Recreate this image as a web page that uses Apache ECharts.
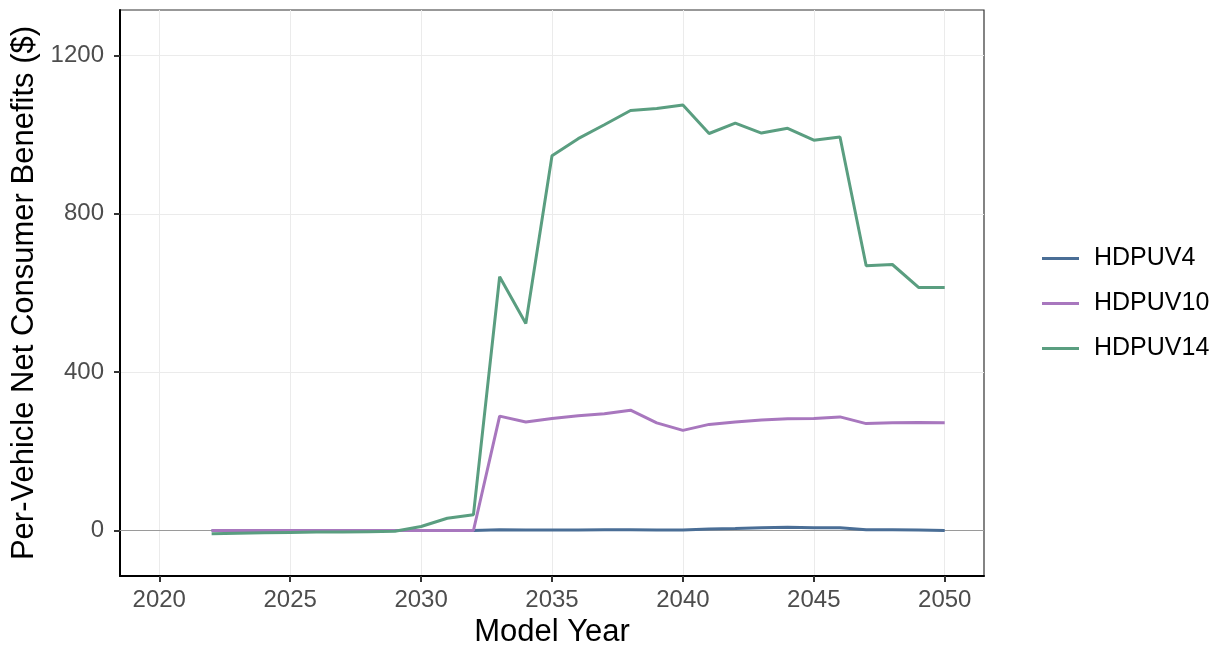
<!DOCTYPE html>
<html>
<head>
<meta charset="utf-8">
<script src="https://cdn.jsdelivr.net/npm/echarts@6/dist/echarts.min.js"></script>
<style>
  html, body { margin: 0; padding: 0; background: #fff; }
  #main { width: 1216px; height: 650px; }
</style>
</head>
<body>
<div id="main"></div>
<script>
// 数据区域
var years = [2022, 2023, 2024, 2025, 2026, 2027, 2028, 2029, 2030, 2031, 2032, 2033, 2034, 2035, 2036,
             2037, 2038, 2039, 2040, 2041, 2042, 2043, 2044, 2045, 2046, 2047, 2048, 2049, 2050];
var hdpuv4  = [0, 0, 0, 0, 0, 0, 0, 0, 0, 0, 0, 2, 1, 1, 1, 2, 2, 1, 1, 4, 5, 7, 8, 7, 7, 2, 2, 1, 0];
var hdpuv10 = [0, 0, 0, 0, 0, 0, 0, 0, 0, 0, 0, 289, 274, 283, 290, 295, 304, 272, 253, 268, 274, 279, 282, 283, 287, 270, 272, 273, 272];
var hdpuv14 = [-8, -7, -6, -5, -4, -4, -3, -2, 10, 31, 40, 641, 523, 947, 990, 1025, 1061, 1066, 1075, 1003, 1029, 1004, 1016, 986, 994, 669, 672, 614, 614];
var xTicks = [2020, 2025, 2030, 2035, 2040, 2045, 2050];
var yTicks = [0, 400, 800, 1200];
var seriesNames = ['HDPUV4', 'HDPUV10', 'HDPUV14'];
var colorList = ['#4A6E96', '#A877BE', '#5A9E80'];

function toPairs(vals) {
    var out = [];
    for (var i = 0; i < years.length; i++) {
        out.push([years[i], vals[i]]);
    }
    return out;
}

var chart = echarts.init(document.getElementById('main'));
var allVals = [hdpuv4, hdpuv10, hdpuv14];

var series = [];
for (var k = 0; k < seriesNames.length; k++) {
    var s = {
        name: seriesNames[k],
        type: 'line',
        data: toPairs(allVals[k]),
        showSymbol: false,
        symbol: 'none',
        z: 3 + k,
        lineStyle: { color: colorList[k], width: 3 },
        itemStyle: { color: colorList[k] }
    };
    if (k === 0) {
        // 0 参考线
        s.markLine = {
            silent: true,
            symbol: 'none',
            z: 1,
            label: { show: false },
            lineStyle: { color: '#9a9a9a', width: 1, type: 'solid' },
            data: [{ yAxis: 0 }]
        };
    }
    series.push(s);
}

var option = {
    animation: false,
    backgroundColor: '#fff',
    grid: {
        left: 120, right: 232, top: 10, bottom: 74,
        outerBoundsMode: 'none',
        containLabel: false,
        show: true, borderColor: '#333', borderWidth: 1.2, backgroundColor: 'transparent'
    },
    legend: {
        orient: 'vertical',
        left: 1037, top: 241,
        itemWidth: 37, itemHeight: 26, itemGap: 20,
        data: seriesNames.map(function (n, i) {
            return { name: n, icon: 'path://M0,11.5 L37,11.5 L37,14.5 L0,14.5 Z', itemStyle: { color: colorList[i] } };
        }),
        textStyle: { fontFamily: 'Liberation Sans, Arial', fontSize: 25, color: '#000', padding: [0, 0, 0, 10] }
    },
    xAxis: {
        type: 'value',
        min: 2018.5, max: 2051.5,
        name: 'Model Year',
        nameLocation: 'middle',
        nameGap: 39,
        nameTextStyle: { fontFamily: 'Liberation Sans, Arial', fontSize: 31, color: '#000' },
        axisLine: { show: true, onZero: false, lineStyle: { color: '#000', width: 2 } },
        axisTick: { show: true, length: 6, customValues: xTicks, lineStyle: { color: '#333', width: 2 } },
        axisLabel: { customValues: xTicks, margin: 12, fontFamily: 'Liberation Sans, Arial', fontSize: 24, color: '#4D4D4D',
            formatter: function (v) { return String(v); } },
        splitLine: { show: true, lineStyle: { color: '#EBEBEB', width: 1 } }
    },
    yAxis: {
        type: 'value',
        min: -115, max: 1315,
        name: 'Per-Vehicle Net Consumer Benefits ($)',
        nameLocation: 'middle',
        nameGap: 80,
        nameTextStyle: { fontFamily: 'Liberation Sans, Arial', fontSize: 31, color: '#000' },
        axisLine: { show: true, onZero: false, lineStyle: { color: '#000', width: 2 } },
        axisTick: { show: true, length: 6, customValues: yTicks, lineStyle: { color: '#333', width: 2 } },
        axisLabel: { customValues: yTicks, margin: 16, fontFamily: 'Liberation Sans, Arial', fontSize: 24, color: '#4D4D4D',
            formatter: function (v) { return String(v); } },
        splitLine: { show: true, lineStyle: { color: '#EBEBEB', width: 1 } }
    },
    series: series
};

chart.setOption(option);
</script>
</body>
</html>
